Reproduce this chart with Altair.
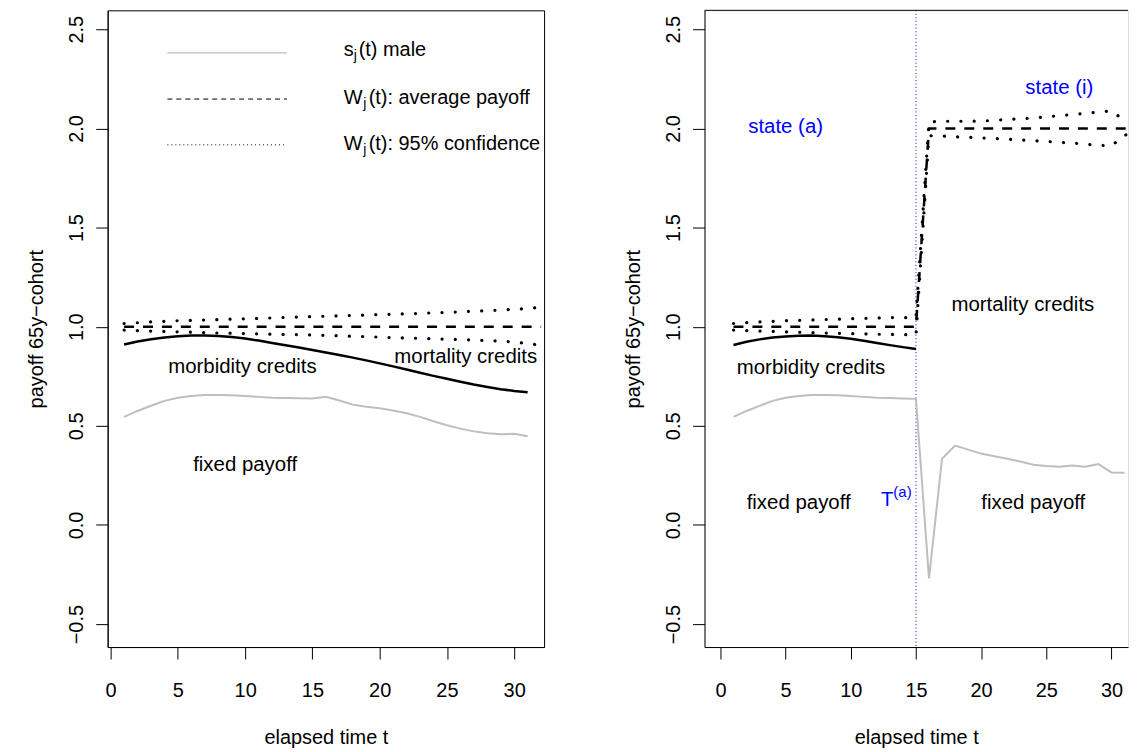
import altair as alt
import pandas as pd

FONT = "Liberation Sans"
BLUE = "#0000FF"
GRAY = "#BEBEBE"

# ---------------- data ----------------
t_s = list(range(1, 32))          # time points for s_j(t) and credits curve
t_w = list(range(1, 33))          # time points for W_j(t) lines

s_left = [0.545, 0.575, 0.601, 0.626, 0.642, 0.651, 0.656, 0.656, 0.654, 0.651,
          0.646, 0.642, 0.640, 0.639, 0.638, 0.646, 0.628, 0.607, 0.596, 0.589,
          0.577, 0.563, 0.545, 0.523, 0.503, 0.486, 0.472, 0.463, 0.457, 0.460,
          0.447]
s_right = [0.545, 0.575, 0.601, 0.626, 0.642, 0.651, 0.656, 0.656, 0.654, 0.651,
           0.646, 0.642, 0.640, 0.638, 0.636, -0.270, 0.334, 0.400, 0.380, 0.360,
           0.347, 0.334, 0.320, 0.304, 0.298, 0.294, 0.300, 0.294, 0.307, 0.265,
           0.263]

m_left = [0.910, 0.925, 0.937, 0.946, 0.952, 0.955, 0.956, 0.953, 0.948, 0.940,
          0.930, 0.918, 0.906, 0.895, 0.882, 0.870, 0.857, 0.844, 0.830, 0.815,
          0.800, 0.784, 0.768, 0.752, 0.737, 0.722, 0.708, 0.696, 0.685, 0.676,
          0.669]
m_right = [0.908, 0.924, 0.936, 0.945, 0.951, 0.954, 0.955, 0.952, 0.947, 0.939,
           0.929, 0.918, 0.907, 0.897, 0.888]

w_mean_left = [1.0, 1.0, 1.0, 1.0, 1.0, 1.0, 1.0, 1.0, 1.0, 1.0, 1.0, 1.0, 1.0,
               1.0, 1.0, 1.0, 1.0, 1.0, 1.0, 1.0, 1.0, 1.0, 1.0, 1.0, 1.0, 1.0,
               1.0, 1.0, 1.0, 1.0, 1.0, 1.0]
w_up_left = [1.016, 1.020, 1.024, 1.027, 1.030, 1.032, 1.034, 1.036, 1.038, 1.040,
             1.042, 1.044, 1.047, 1.049, 1.051, 1.053, 1.055, 1.057, 1.059, 1.061,
             1.063, 1.065, 1.067, 1.070, 1.072, 1.075, 1.078, 1.081, 1.084, 1.088,
             1.092, 1.097]
w_lo_left = [0.983, 0.980, 0.978, 0.976, 0.974, 0.972, 0.970, 0.968, 0.967, 0.965,
             0.964, 0.962, 0.961, 0.960, 0.958, 0.956, 0.954, 0.952, 0.950, 0.947,
             0.945, 0.943, 0.941, 0.939, 0.937, 0.935, 0.933, 0.930, 0.927, 0.922,
             0.915, 0.906]

w_mean_right = [1.0, 1.0, 1.0, 1.0, 1.0, 1.0, 1.0, 1.0, 1.0, 1.0, 1.0, 1.0, 1.0,
                1.0, 1.0, 2.0, 2.0, 2.0, 2.0, 2.0, 2.0, 2.0, 2.0, 2.0, 2.0, 2.0,
                2.0, 2.0, 2.0, 2.0, 2.0, 2.0]
w_up_right = [1.016, 1.020, 1.024, 1.027, 1.030, 1.032, 1.034, 1.036, 1.038, 1.040,
              1.042, 1.044, 1.046, 1.046, 1.045, 2.033, 2.036, 2.036, 2.036, 2.037,
              2.040, 2.045, 2.048, 2.052, 2.058, 2.064, 2.070, 2.076, 2.082, 2.088,
              2.040, 2.028]
w_lo_right = [0.983, 0.980, 0.978, 0.976, 0.974, 0.972, 0.970, 0.968, 0.967, 0.965,
              0.964, 0.962, 0.961, 0.960, 0.958, 1.963, 1.962, 1.958, 1.955, 1.952,
              1.949, 1.946, 1.942, 1.938, 1.934, 1.930, 1.926, 1.920, 1.915, 1.912,
              1.965, 1.985]

x_ticks = [0, 5, 10, 15, 20, 25, 30]
y_ticks = [-0.5, 0.0, 0.5, 1.0, 1.5, 2.0, 2.5]
t_switch = 15

# annotation texts (data coordinates)
left_labels = pd.DataFrame({
    "x": [9.8, 26.4, 10.0],
    "y": [0.768, 0.818, 0.274],
    "text": ["morbidity credits", "mortality credits", "fixed payoff"],
})
right_labels = pd.DataFrame({
    "x": [6.95, 23.2, 6.0, 24.0],
    "y": [0.763, 1.078, 0.081, 0.081],
    "text": ["morbidity credits", "mortality credits", "fixed payoff", "fixed payoff"],
})
right_blue_labels = pd.DataFrame({
    "x": [5.0, 26.0],
    "y": [1.975, 2.172],
    "text": ["state (a)", "state (i)"],
})
t_label = pd.DataFrame({"x": [12.31], "y": [0.098], "text": ["T"]})
t_sup = pd.DataFrame({"x": [12.31], "y": [0.098], "text": ["(a)"]})

# legend (data coordinates)
leg_x0, leg_x1 = 4.22, 13.11
leg_line_y = [2.381, 2.148, 1.917]
leg_text_x = 17.33
leg_text_y = [2.363, 2.125, 1.890]
leg_main = ["s", "W", "W"]
leg_rest = ["(t) male", "(t): average payoff", "(t): 95% confidence"]

# ---------------- scales / axes ----------------
Y_DOMAIN = [-0.6156, 2.5955]
LEFT_X_DOMAIN = [-0.222, 32.222]
RIGHT_W = 425
RIGHT_X_DOMAIN = [-1.223, -1.223 + RIGHT_W / 13.08]

common_axis = dict(grid=False, domainColor="black", tickColor="black",
                   labelColor="black", titleColor="black", labelFont=FONT,
                   titleFont=FONT, labelFontSize=20, titleFontSize=20,
                   titleFontWeight="normal", tickSize=12, labelOverlap=False,
                   labelFlush=False, domainWidth=1, tickWidth=1)

xaxis = alt.Axis(values=x_ticks, labelPadding=22, titleY=81, titleBaseline="top",
                 **common_axis)
yaxis = alt.Axis(values=y_ticks, format=".1f",
                 labelExpr="replace(datum.label, '-', '\u2212')",
                 labelAngle=270, labelAlign="center", labelBaseline="bottom",
                 labelPadding=9, titleX=-61, titleAngle=270,
                 titleBaseline="bottom", titleAlign="center", **common_axis)

XT = "elapsed time t"
YT = "payoff 65y\u2212cohort"
TXT = 20.5


def xenc(field, dom):
    return alt.X(field, type="quantitative",
                 scale=alt.Scale(domain=dom, nice=False, zero=False),
                 axis=xaxis, title=XT)


def yenc(field):
    return alt.Y(field, type="quantitative",
                 scale=alt.Scale(domain=Y_DOMAIN, nice=False, zero=False),
                 axis=yaxis, title=YT)


def line_layer(ts, vals, dom, **style):
    df = pd.DataFrame({"t": ts, "v": vals})
    return alt.Chart(df).mark_line(clip=True, **style).encode(
        x=xenc("t", dom), y=yenc("v"), order="t:Q")


def text_layer(df, dom, color="black", size=TXT, align="center", dx=0, dy=0):
    return alt.Chart(df).mark_text(font=FONT, fontSize=size, color=color,
                                   align=align, baseline="alphabetic",
                                   dx=dx, dy=dy, clip=True).encode(
        x=xenc("x", dom), y=yenc("y"), text="text:N")


dotted = dict(color="black", strokeWidth=3.2, strokeDash=[0.1, 13.2],
              strokeCap="round")
dashed = dict(color="black", strokeWidth=2.5, strokeDash=[10, 9])

# ---------------- left panel ----------------
Ld = LEFT_X_DOMAIN
leg_lines = pd.DataFrame({"x": [leg_x0] * 3, "x2": [leg_x1] * 3, "y": leg_line_y})


def leg_rule(i, **style):
    return alt.Chart(leg_lines.iloc[[i]]).mark_rule(**style).encode(
        x=xenc("x", Ld), x2="x2", y=yenc("y"))


leg_main_df = pd.DataFrame({"x": [leg_text_x] * 3, "y": leg_text_y, "text": leg_main})
leg_rest_df = pd.DataFrame({"x": [leg_text_x] * 3, "y": leg_text_y, "text": leg_rest})
leg_sub_df = pd.DataFrame({"x": [leg_text_x] * 3, "y": leg_text_y, "text": ["j", "j", "j"]})

left = alt.layer(
    line_layer(t_s, s_left, Ld, color=GRAY, strokeWidth=2),
    line_layer(t_s, m_left, Ld, color="black", strokeWidth=2.5),
    line_layer(t_w, w_mean_left, Ld, **dashed),
    line_layer(t_w, w_up_left, Ld, **dotted),
    line_layer(t_w, w_lo_left, Ld, **dotted),
    text_layer(left_labels, Ld),
    leg_rule(0, color=GRAY, strokeWidth=1.3),
    leg_rule(1, color="black", strokeWidth=1, strokeDash=[5, 4]),
    leg_rule(2, color="black", strokeWidth=1, strokeDash=[1, 3]),
    text_layer(leg_main_df, Ld, align="left", size=20),
    text_layer(leg_sub_df.iloc[[0]], Ld, align="left", size=14, dx=10, dy=4),
    text_layer(leg_sub_df.iloc[[1, 2]], Ld, align="left", size=14, dx=19.5, dy=4),
    text_layer(leg_rest_df.iloc[[0]], Ld, align="left", size=20, dx=15),
    text_layer(leg_rest_df.iloc[[1, 2]], Ld, align="left", size=20, dx=25),
).properties(width=438, height=639,
             view=alt.ViewBackground(stroke="black", strokeWidth=1))

# ---------------- right panel ----------------
Rd = RIGHT_X_DOMAIN

vline = alt.Chart(pd.DataFrame({"t": [t_switch]})).mark_rule(
    color=BLUE, strokeWidth=1, strokeDash=[1, 2.5]).encode(x=xenc("t", Rd))
top_border = alt.Chart(pd.DataFrame({"y": [Y_DOMAIN[1]]})).mark_rule(
    color="black", strokeWidth=1).encode(y=yenc("y"))

right = alt.layer(
    vline,
    line_layer(t_s, s_right, Rd, color=GRAY, strokeWidth=2),
    line_layer(t_s[:15], m_right, Rd, color="black", strokeWidth=2.5),
    line_layer(t_w, w_mean_right, Rd, **dashed),
    line_layer(t_w, w_up_right, Rd, **dotted),
    line_layer(t_w, w_lo_right, Rd, **dotted),
    text_layer(right_labels, Rd),
    text_layer(right_blue_labels, Rd, color=BLUE),
    text_layer(t_label, Rd, color=BLUE, align="left"),
    text_layer(t_sup, Rd, color=BLUE, align="left", size=15, dx=12.5, dy=-9),
    top_border,
).properties(width=RIGHT_W, height=639)

chart = alt.hconcat(left, right, spacing=78).properties(
    padding={"left": 18, "top": 0, "right": 0, "bottom": 0}
).configure_view(stroke="transparent").configure(font=FONT)

chart.save("out.html", embed_options={"renderer": "svg", "actions": False})
